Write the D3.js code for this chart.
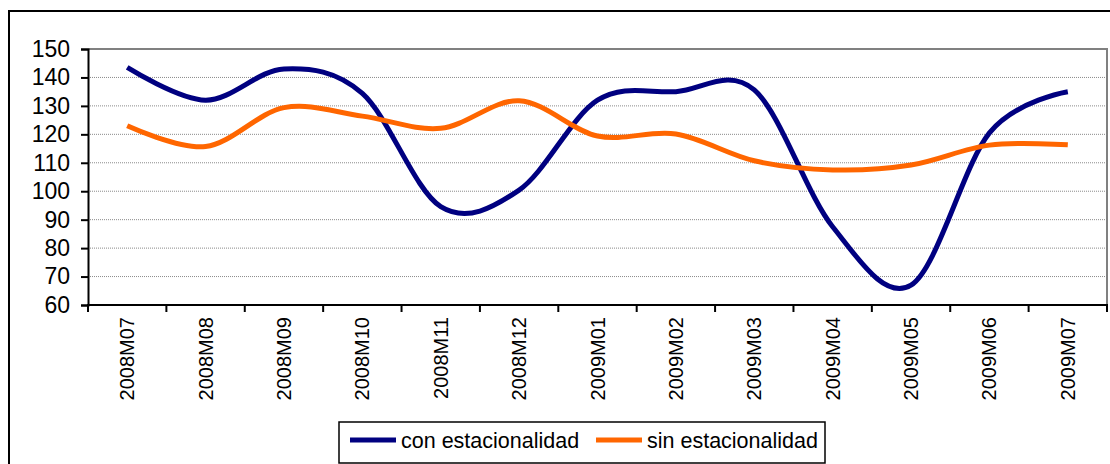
<!DOCTYPE html>
<html>
<head>
<meta charset="utf-8">
<script src="https://cdn.jsdelivr.net/npm/d3@7"></script>
<style>
  body { margin: 0; background: #fff; }
  svg { display: block; font-family: Arial, "Liberation Sans", sans-serif; }
</style>
</head>
<body>
<div id="chart"></div>
<script>
const months = ["2008M07", "2008M08", "2008M09", "2008M10", "2008M11", "2008M12",
    "2009M01", "2009M02", "2009M03", "2009M04", "2009M05", "2009M06", "2009M07"]
const conEstacionalidad = [143.5, 132, 143, 134.4, 94.6, 100.4, 132, 135, 135.6, 87.5, 67, 120.5, 135]
const sinEstacionalidad = [123, 115.7, 129.4, 126.4, 122.1, 131.8, 119.4, 120.1, 110.7, 107.5, 109.2, 116.2, 116.3]
const yTicks = [60, 70, 80, 90, 100, 110, 120, 130, 140, 150]
const seriesNames = ["con estacionalidad", "sin estacionalidad"]

const width = 1110, height = 464
const plot = { left: 88, right: 1107, top: 49, bottom: 305 }
const colors = ["#000080", "#ff6600"]

const svg = d3.select("#chart").append("svg")
    .attr("width", width)
    .attr("height", height)

// outer chart frame (runs off the right and bottom edges)
svg.append("rect")
    .attr("x", 9).attr("y", 11)
    .attr("width", 1115).attr("height", 470)
    .attr("fill", "none")
    .attr("stroke", "black")
    .attr("stroke-width", 2)

const x = d3.scaleBand().domain(months).range([plot.left, plot.right]).padding(0)
const y = d3.scaleLinear().domain([60, 150]).range([plot.bottom, plot.top])
const cx = d => x(d) + x.bandwidth() / 2

// gridlines
svg.append("g").selectAll("line")
    .data(yTicks.filter(v => v > 60 && v < 150))
    .join("line")
    .attr("x1", plot.left).attr("x2", plot.right)
    .attr("y1", d => y(d)).attr("y2", d => y(d))
    .attr("stroke", "#8a8a8a")
    .attr("stroke-width", 1)
    .attr("stroke-dasharray", "1,1")

// plot area top / right border
svg.append("path")
    .attr("d", `M${plot.left},${y(150)}H${plot.right}V${plot.bottom}`)
    .attr("fill", "none")
    .attr("stroke", "#808080")
    .attr("stroke-width", 2)

// y axis
const yAxis = svg.append("g")
    .attr("transform", `translate(${plot.left},0)`)
    .call(d3.axisLeft(y).tickValues(yTicks).tickSize(7).tickPadding(11))
yAxis.select(".domain").attr("stroke", "black").attr("stroke-width", 2)
yAxis.selectAll(".tick line").attr("stroke", "black").attr("stroke-width", 2)
yAxis.selectAll(".tick text")
    .attr("font-size", 23)
    .attr("font-family", "Arial, 'Liberation Sans', sans-serif")
    .attr("fill", "black")

// x axis: ticks between categories
const boundaries = months.map(m => x(m)).concat([plot.right])
svg.append("line")
    .attr("x1", plot.left - 1).attr("x2", plot.right + 1)
    .attr("y1", plot.bottom).attr("y2", plot.bottom)
    .attr("stroke", "black").attr("stroke-width", 2)
svg.append("g").selectAll("line")
    .data(boundaries)
    .join("line")
    .attr("x1", d => d).attr("x2", d => d)
    .attr("y1", plot.bottom).attr("y2", plot.bottom + 7)
    .attr("stroke", "black").attr("stroke-width", 2)

svg.append("g").selectAll("text")
    .data(months)
    .join("text")
    .attr("transform", d => `translate(${cx(d)},${plot.bottom + 12}) rotate(-90)`)
    .attr("text-anchor", "end")
    .attr("dy", "0.35em")
    .attr("font-size", 20)
    .attr("fill", "black")
    .text(d => d)

// series lines
const line = d3.line()
    .x((d, i) => cx(months[i]))
    .y(d => y(d))
    .curve(d3.curveCardinal.tension(0))

;[conEstacionalidad, sinEstacionalidad].forEach((vals, k) => {
    svg.append("path")
        .datum(vals)
        .attr("d", line)
        .attr("fill", "none")
        .attr("stroke", colors[k])
        .attr("stroke-width", 5)
        .attr("stroke-linejoin", "round")
})

// legend
svg.append("rect")
    .attr("x", 339).attr("y", 422)
    .attr("width", 486).attr("height", 41)
    .attr("fill", "white")
    .attr("stroke", "black")
    .attr("stroke-width", 1.5)
const legend = svg.append("g")
const legendItems = [{ x: 350, tx: 401 }, { x: 596, tx: 647 }]
legendItems.forEach((it, k) => {
    legend.append("line")
        .attr("x1", it.x).attr("x2", it.x + 46)
        .attr("y1", 440).attr("y2", 440)
        .attr("stroke", colors[k])
        .attr("stroke-width", 5)
    legend.append("text")
        .attr("x", it.tx).attr("y", 440)
        .attr("dy", "0.35em")
        .attr("font-size", 21.5)
        .attr("fill", "black")
        .text(seriesNames[k])
})
</script>
</body>
</html>
